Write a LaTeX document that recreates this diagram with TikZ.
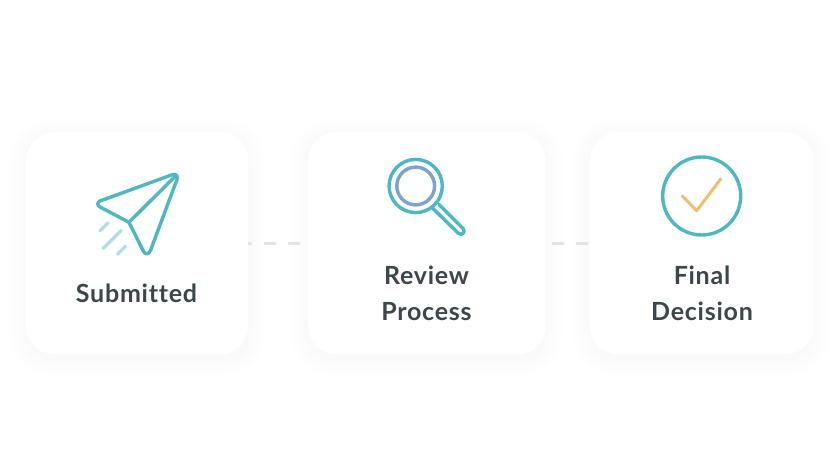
\documentclass[tikz,border=0pt]{standalone}
\usepackage{fontspec}
\setmainfont{Lato}[UprightFont=* Bold,BoldFont=* Bold,LetterSpace=3,Ligatures={NoCommon}]
\definecolor{teal1}{HTML}{4DB8BF}
\definecolor{tealpale}{HTML}{ABDFE2}
\definecolor{blue1}{HTML}{7DA3CB}
\definecolor{gold1}{HTML}{EFBE75}
\definecolor{ink}{HTML}{3A474B}
\definecolor{dashgrey}{HTML}{E3E3E3}
\newcommand{\softshade}[4]{%
  \foreach \g in {1,...,5}{
    \fill[black,opacity=.004,rounded corners=28+\g*3]
      ({#1-\g*3.6},{#2-\g*3.6+4}) rectangle ({#3+\g*3.6},{#4+\g*3.6+4});
  }}
\tikzset{
  x=1pt,y=-1pt,
  cardbox/.style={draw=none,fill=white,rounded corners=28,inner sep=0pt,anchor=north west},
  label/.style={text=ink,font=\fontsize{25}{36}\selectfont,align=center,inner sep=0pt},
  iconline/.style={draw=teal1,line width=3.4,line cap=round,line join=round},
  speedline/.style={draw=tealpale,line width=3.2,line cap=round},
  link/.style={draw=dashgrey,line width=3,dash pattern=on 12 off 12}
}
\begin{document}
\begin{tikzpicture}
\useasboundingbox (0,0) rectangle (840,465);
\softshade{26}{132}{248}{354}
\softshade{308}{132}{545}{354}
\softshade{590}{132}{813}{354}
\node[cardbox,minimum width=222,minimum height=222] (c1) at (26,132) {};
\node[cardbox,minimum width=237,minimum height=222] (c2) at (308,132) {};
\node[cardbox,minimum width=223,minimum height=222] (c3) at (590,132) {};
\draw[link,dash phase=8] (c1.east) -- (c2.west);
\draw[link,dash phase=17] (c2.east) -- (c3.west);
% paper plane
\draw[iconline] (129,222.3) -- (100,207) .. controls (97,205.3) and (97,202.4) .. (100,201) -- (172,174.8) .. controls (176,173.5) and (178,175.5) .. (177,179.5) -- (150.5,250.5) .. controls (148.8,254.8) and (145,255) .. (143,250.5) -- cycle;
\draw[iconline] (129,222.3) -- (175,176.5);
\draw[speedline] (100,230.7) -- (108.2,222.8);
\draw[speedline] (103,248.5) -- (121.2,230.5);
\draw[speedline] (117.5,254.2) -- (125.5,246.2);
% magnifier
\draw[draw=blue1,line width=3.4] (415.7,186) circle (18.9);
\draw[iconline] (415.7,186) circle (26.6);
\draw[iconline] (438.8,204.3) -- (463,228.5) .. controls (466.5,232) and (461.5,236.5) .. (458,233) -- (433,208.5);
% check
\draw[iconline] (701.7,196) circle (39);
\draw[draw=gold1,line width=3,line cap=round,line join=round] (682.3,196) -- (696.7,210.7) -- (720.7,179);
% labels
\node[label] (t1) at (136.5,293) {Submitted};
\node[label] (t2) at (426.5,293) {Review\\Process};
\node[label] (t3) at (702,293) {Final\\Decision};
\end{tikzpicture}
\end{document}
